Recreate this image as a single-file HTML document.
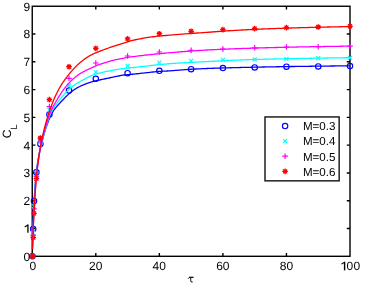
<!DOCTYPE html><html><head><meta charset="utf-8"><style>html,body{margin:0;padding:0;background:#fff}svg{display:block;will-change:transform}text{font-family:"Liberation Sans",sans-serif;fill:#000;text-rendering:geometricPrecision}</style></head><body>
<svg width="366" height="286" viewBox="0 0 366 286">
<rect width="366" height="286" fill="#fff"/>
<g stroke="#000" stroke-width="1.4" fill="none">
<rect x="32.25" y="6.25" width="317.75" height="250.05"/>
<path d="M95.80 256.30 v-3.20 M95.80 6.25 v3.20 M159.35 256.30 v-3.20 M159.35 6.25 v3.20 M222.90 256.30 v-3.20 M222.90 6.25 v3.20 M286.45 256.30 v-3.20 M286.45 6.25 v3.20 M32.25 228.52 h3.20 M350.00 228.52 h-3.20 M32.25 200.73 h3.20 M350.00 200.73 h-3.20 M32.25 172.95 h3.20 M350.00 172.95 h-3.20 M32.25 145.17 h3.20 M350.00 145.17 h-3.20 M32.25 117.38 h3.20 M350.00 117.38 h-3.20 M32.25 89.60 h3.20 M350.00 89.60 h-3.20 M32.25 61.82 h3.20 M350.00 61.82 h-3.20 M32.25 34.03 h3.20 M350.00 34.03 h-3.20 "/>
</g>
<g>
<circle cx="32.40" cy="256.30" r="2.7" fill="none" stroke="#0000ff" stroke-width="1.15"/>
<circle cx="33.20" cy="229.00" r="2.7" fill="none" stroke="#0000ff" stroke-width="1.15"/>
<circle cx="34.00" cy="201.00" r="2.7" fill="none" stroke="#0000ff" stroke-width="1.15"/>
<circle cx="36.40" cy="172.20" r="2.7" fill="none" stroke="#0000ff" stroke-width="1.15"/>
<circle cx="40.40" cy="143.90" r="2.7" fill="none" stroke="#0000ff" stroke-width="1.15"/>
<circle cx="49.40" cy="114.40" r="2.7" fill="none" stroke="#0000ff" stroke-width="1.15"/>
<circle cx="69.00" cy="90.60" r="2.7" fill="none" stroke="#0000ff" stroke-width="1.15"/>
<circle cx="95.80" cy="78.80" r="2.7" fill="none" stroke="#0000ff" stroke-width="1.15"/>
<circle cx="127.58" cy="73.20" r="2.7" fill="none" stroke="#0000ff" stroke-width="1.15"/>
<circle cx="159.35" cy="70.80" r="2.7" fill="none" stroke="#0000ff" stroke-width="1.15"/>
<circle cx="191.12" cy="69.20" r="2.7" fill="none" stroke="#0000ff" stroke-width="1.15"/>
<circle cx="222.90" cy="68.00" r="2.7" fill="none" stroke="#0000ff" stroke-width="1.15"/>
<circle cx="254.68" cy="67.40" r="2.7" fill="none" stroke="#0000ff" stroke-width="1.15"/>
<circle cx="286.45" cy="66.70" r="2.7" fill="none" stroke="#0000ff" stroke-width="1.15"/>
<circle cx="318.23" cy="66.40" r="2.7" fill="none" stroke="#0000ff" stroke-width="1.15"/>
<circle cx="350.00" cy="66.10" r="2.7" fill="none" stroke="#0000ff" stroke-width="1.15"/>
</g>
<g>
<path d="M30.40 254.30 L34.40 258.30 M30.40 258.30 L34.40 254.30" stroke="#00ffff" stroke-width="1.2" fill="none"/>
<path d="M31.20 230.80 L35.20 234.80 M31.20 234.80 L35.20 230.80" stroke="#00ffff" stroke-width="1.2" fill="none"/>
<path d="M32.00 204.30 L36.00 208.30 M32.00 208.30 L36.00 204.30" stroke="#00ffff" stroke-width="1.2" fill="none"/>
<path d="M34.40 172.60 L38.40 176.60 M34.40 176.60 L38.40 172.60" stroke="#00ffff" stroke-width="1.2" fill="none"/>
<path d="M38.40 140.00 L42.40 144.00 M38.40 144.00 L42.40 140.00" stroke="#00ffff" stroke-width="1.2" fill="none"/>
<path d="M47.40 108.00 L51.40 112.00 M47.40 112.00 L51.40 108.00" stroke="#00ffff" stroke-width="1.2" fill="none"/>
<path d="M67.00 83.50 L71.00 87.50 M67.00 87.50 L71.00 83.50" stroke="#00ffff" stroke-width="1.2" fill="none"/>
<path d="M93.80 70.20 L97.80 74.20 M93.80 74.20 L97.80 70.20" stroke="#00ffff" stroke-width="1.2" fill="none"/>
<path d="M125.58 63.90 L129.57 67.90 M125.58 67.90 L129.57 63.90" stroke="#00ffff" stroke-width="1.2" fill="none"/>
<path d="M157.35 60.60 L161.35 64.60 M157.35 64.60 L161.35 60.60" stroke="#00ffff" stroke-width="1.2" fill="none"/>
<path d="M189.12 58.80 L193.12 62.80 M189.12 62.80 L193.12 58.80" stroke="#00ffff" stroke-width="1.2" fill="none"/>
<path d="M220.90 57.80 L224.90 61.80 M220.90 61.80 L224.90 57.80" stroke="#00ffff" stroke-width="1.2" fill="none"/>
<path d="M252.68 57.40 L256.68 61.40 M252.68 61.40 L256.68 57.40" stroke="#00ffff" stroke-width="1.2" fill="none"/>
<path d="M284.45 56.80 L288.45 60.80 M284.45 60.80 L288.45 56.80" stroke="#00ffff" stroke-width="1.2" fill="none"/>
<path d="M316.23 56.20 L320.23 60.20 M316.23 60.20 L320.23 56.20" stroke="#00ffff" stroke-width="1.2" fill="none"/>
<path d="M348.00 55.90 L352.00 59.90 M348.00 59.90 L352.00 55.90" stroke="#00ffff" stroke-width="1.2" fill="none"/>
</g>
<g>
<path d="M29.60 256.30 L35.20 256.30 M32.40 253.50 L32.40 259.10" stroke="#ff00ff" stroke-width="1.2" fill="none"/>
<path d="M30.40 235.20 L36.00 235.20 M33.20 232.40 L33.20 238.00" stroke="#ff00ff" stroke-width="1.2" fill="none"/>
<path d="M31.20 208.90 L36.80 208.90 M34.00 206.10 L34.00 211.70" stroke="#ff00ff" stroke-width="1.2" fill="none"/>
<path d="M33.60 176.20 L39.20 176.20 M36.40 173.40 L36.40 179.00" stroke="#ff00ff" stroke-width="1.2" fill="none"/>
<path d="M37.60 141.00 L43.20 141.00 M40.40 138.20 L40.40 143.80" stroke="#ff00ff" stroke-width="1.2" fill="none"/>
<path d="M46.60 106.60 L52.20 106.60 M49.40 103.80 L49.40 109.40" stroke="#ff00ff" stroke-width="1.2" fill="none"/>
<path d="M66.20 78.30 L71.80 78.30 M69.00 75.50 L69.00 81.10" stroke="#ff00ff" stroke-width="1.2" fill="none"/>
<path d="M93.00 63.00 L98.60 63.00 M95.80 60.20 L95.80 65.80" stroke="#ff00ff" stroke-width="1.2" fill="none"/>
<path d="M124.78 56.00 L130.38 56.00 M127.58 53.20 L127.58 58.80" stroke="#ff00ff" stroke-width="1.2" fill="none"/>
<path d="M156.55 52.00 L162.15 52.00 M159.35 49.20 L159.35 54.80" stroke="#ff00ff" stroke-width="1.2" fill="none"/>
<path d="M188.32 50.30 L193.93 50.30 M191.12 47.50 L191.12 53.10" stroke="#ff00ff" stroke-width="1.2" fill="none"/>
<path d="M220.10 49.00 L225.70 49.00 M222.90 46.20 L222.90 51.80" stroke="#ff00ff" stroke-width="1.2" fill="none"/>
<path d="M251.88 47.80 L257.48 47.80 M254.68 45.00 L254.68 50.60" stroke="#ff00ff" stroke-width="1.2" fill="none"/>
<path d="M283.65 47.00 L289.25 47.00 M286.45 44.20 L286.45 49.80" stroke="#ff00ff" stroke-width="1.2" fill="none"/>
<path d="M315.43 46.70 L321.03 46.70 M318.23 43.90 L318.23 49.50" stroke="#ff00ff" stroke-width="1.2" fill="none"/>
<path d="M347.20 46.20 L352.80 46.20 M350.00 43.40 L350.00 49.00" stroke="#ff00ff" stroke-width="1.2" fill="none"/>
</g>
<g>
<path d="M29.60 256.30 L35.20 256.30 M32.40 253.50 L32.40 259.10 M30.40 254.30 L34.40 258.30 M30.40 258.30 L34.40 254.30" stroke="#ff0000" stroke-width="1.3" fill="none"/>
<path d="M30.40 237.60 L36.00 237.60 M33.20 234.80 L33.20 240.40 M31.20 235.60 L35.20 239.60 M31.20 239.60 L35.20 235.60" stroke="#ff0000" stroke-width="1.3" fill="none"/>
<path d="M31.20 213.40 L36.80 213.40 M34.00 210.60 L34.00 216.20 M32.00 211.40 L36.00 215.40 M32.00 215.40 L36.00 211.40" stroke="#ff0000" stroke-width="1.3" fill="none"/>
<path d="M33.60 178.60 L39.20 178.60 M36.40 175.80 L36.40 181.40 M34.40 176.60 L38.40 180.60 M34.40 180.60 L38.40 176.60" stroke="#ff0000" stroke-width="1.3" fill="none"/>
<path d="M37.60 138.00 L43.20 138.00 M40.40 135.20 L40.40 140.80 M38.40 136.00 L42.40 140.00 M38.40 140.00 L42.40 136.00" stroke="#ff0000" stroke-width="1.3" fill="none"/>
<path d="M46.60 99.65 L52.20 99.65 M49.40 96.85 L49.40 102.45 M47.40 97.65 L51.40 101.65 M47.40 101.65 L51.40 97.65" stroke="#ff0000" stroke-width="1.3" fill="none"/>
<path d="M66.20 66.70 L71.80 66.70 M69.00 63.90 L69.00 69.50 M67.00 64.70 L71.00 68.70 M67.00 68.70 L71.00 64.70" stroke="#ff0000" stroke-width="1.3" fill="none"/>
<path d="M93.00 48.40 L98.60 48.40 M95.80 45.60 L95.80 51.20 M93.80 46.40 L97.80 50.40 M93.80 50.40 L97.80 46.40" stroke="#ff0000" stroke-width="1.3" fill="none"/>
<path d="M124.78 38.90 L130.38 38.90 M127.58 36.10 L127.58 41.70 M125.58 36.90 L129.57 40.90 M125.58 40.90 L129.57 36.90" stroke="#ff0000" stroke-width="1.3" fill="none"/>
<path d="M156.55 33.70 L162.15 33.70 M159.35 30.90 L159.35 36.50 M157.35 31.70 L161.35 35.70 M157.35 35.70 L161.35 31.70" stroke="#ff0000" stroke-width="1.3" fill="none"/>
<path d="M188.32 31.30 L193.93 31.30 M191.12 28.50 L191.12 34.10 M189.12 29.30 L193.12 33.30 M189.12 33.30 L193.12 29.30" stroke="#ff0000" stroke-width="1.3" fill="none"/>
<path d="M220.10 29.60 L225.70 29.60 M222.90 26.80 L222.90 32.40 M220.90 27.60 L224.90 31.60 M220.90 31.60 L224.90 27.60" stroke="#ff0000" stroke-width="1.3" fill="none"/>
<path d="M251.88 28.60 L257.48 28.60 M254.68 25.80 L254.68 31.40 M252.68 26.60 L256.68 30.60 M252.68 30.60 L256.68 26.60" stroke="#ff0000" stroke-width="1.3" fill="none"/>
<path d="M283.65 27.60 L289.25 27.60 M286.45 24.80 L286.45 30.40 M284.45 25.60 L288.45 29.60 M284.45 29.60 L288.45 25.60" stroke="#ff0000" stroke-width="1.3" fill="none"/>
<path d="M315.43 27.00 L321.03 27.00 M318.23 24.20 L318.23 29.80 M316.23 25.00 L320.23 29.00 M316.23 29.00 L320.23 25.00" stroke="#ff0000" stroke-width="1.3" fill="none"/>
<path d="M347.20 26.30 L352.80 26.30 M350.00 23.50 L350.00 29.10 M348.00 24.30 L352.00 28.30 M348.00 28.30 L352.00 24.30" stroke="#ff0000" stroke-width="1.3" fill="none"/>
</g>
<path d="M32.49 246.42 L32.57 243.36 L32.65 240.42 L32.73 237.58 L32.81 234.84 L32.89 232.20 L32.96 229.66 L33.04 227.21 L33.12 224.84 L33.20 222.55 L33.28 220.35 L33.36 218.22 L33.44 216.16 L33.52 214.18 L33.60 212.26 L33.68 210.41 L33.76 208.61 L33.84 206.88 L33.92 205.21 L34.00 203.59 L34.08 202.02 L34.16 200.50 L34.24 199.03 L34.32 197.60 L34.39 196.23 L34.47 194.89 L34.55 193.59 L34.63 192.34 L34.71 191.12 L34.79 189.93 L34.87 188.78 L34.95 187.67 L35.03 186.59 L35.11 185.53 L35.19 184.51 L35.27 183.52 L35.35 182.55 L35.43 181.61 L35.51 180.69 L35.59 179.80 L35.67 178.92 L35.75 178.08 L35.82 177.25 L35.90 176.44 L35.98 175.66 L36.06 174.89 L36.14 174.14 L36.22 173.40 L36.30 172.69 L36.38 171.99 L36.46 171.30 L36.54 170.63 L36.62 169.98 L36.70 169.33 L36.78 168.70 L36.86 168.09 L36.94 167.48 L37.02 166.89 L37.10 166.31 L37.18 165.74 L37.25 165.18 L37.33 164.63 L37.41 164.08 L37.49 163.55 L37.57 163.03 L37.65 162.51 L37.73 162.01 L37.81 161.51 L37.89 161.02 L37.97 160.54 L38.05 160.06 L38.13 159.59 L38.21 159.12 L38.29 158.67 L38.37 158.22 L38.45 157.77 L38.53 157.33 L38.61 156.90 L38.68 156.47 L38.76 156.05 L38.84 155.63 L38.92 155.21 L39.00 154.81 L39.08 154.40 L39.16 154.00 L39.24 153.60 L39.32 153.21 L39.40 152.82 L39.48 152.44 L39.56 152.05 L39.64 151.68 L39.72 151.30 L39.80 150.93 L39.88 150.56 L39.96 150.20 L40.03 149.84 L40.11 149.48 L40.19 149.12 L40.27 148.77 L40.35 148.42 L40.43 148.07 L40.51 147.72 L40.59 147.38 L40.67 147.04 L40.75 146.70 L40.83 146.36 L40.91 146.03 L40.99 145.70 L41.07 145.37 L41.15 145.04 L41.23 144.72 L41.31 144.39 L41.39 144.07 L41.46 143.75 L41.54 143.43 L41.62 143.12 L41.70 142.80 L41.78 142.49 L41.94 141.87 L42.10 141.26 L42.26 140.65 L42.42 140.05 L42.58 139.45 L42.74 138.86 L42.89 138.28 L43.05 137.70 L43.21 137.13 L43.37 136.56 L43.53 136.00 L43.69 135.44 L43.85 134.89 L44.01 134.34 L44.17 133.79 L44.32 133.26 L44.48 132.72 L44.64 132.19 L44.80 131.67 L44.96 131.15 L45.12 130.63 L45.28 130.12 L45.44 129.62 L45.60 129.11 L45.75 128.62 L45.91 128.12 L46.07 127.64 L46.23 127.15 L46.39 126.68 L46.55 126.20 L46.71 125.73 L46.87 125.27 L47.03 124.81 L47.18 124.36 L47.34 123.91 L47.50 123.46 L47.66 123.02 L47.82 122.59 L47.98 122.16 L48.14 121.73 L48.30 121.31 L48.46 120.90 L48.61 120.49 L48.77 120.09 L48.93 119.69 L49.09 119.29 L49.25 118.91 L49.41 118.52 L49.57 118.15 L49.73 117.78 L49.89 117.41 L50.04 117.05 L50.20 116.70 L50.36 116.35 L50.52 116.00 L50.68 115.67 L50.84 115.34 L51.00 115.01 L51.16 114.70 L51.31 114.38 L51.47 114.07 L51.63 113.78 L51.79 113.48 L51.95 113.19 L52.11 112.91 L52.27 112.64 L52.43 112.36 L52.59 112.10 L52.74 111.84 L52.90 111.59 L53.06 111.33 L53.22 111.09 L53.38 110.85 L53.54 110.61 L53.70 110.38 L53.86 110.16 L54.02 109.93 L54.17 109.72 L54.33 109.50 L54.49 109.29 L54.65 109.08 L54.81 108.87 L54.97 108.67 L55.13 108.47 L55.29 108.27 L55.45 108.07 L55.60 107.88 L55.76 107.69 L55.92 107.50 L56.08 107.31 L56.24 107.12 L56.40 106.94 L56.56 106.75 L56.72 106.57 L56.88 106.38 L57.03 106.20 L57.19 106.02 L57.35 105.84 L57.51 105.66 L57.67 105.48 L57.83 105.30 L57.99 105.13 L58.15 104.95 L58.31 104.77 L58.46 104.60 L58.62 104.42 L58.78 104.24 L58.94 104.07 L59.10 103.89 L59.26 103.72 L59.42 103.54 L59.58 103.37 L59.74 103.19 L59.89 103.02 L60.05 102.84 L60.21 102.67 L60.37 102.50 L60.53 102.32 L60.69 102.15 L60.85 101.98 L61.01 101.81 L61.17 101.63 L61.32 101.46 L61.48 101.29 L61.64 101.12 L61.80 100.95 L61.96 100.78 L62.12 100.61 L62.28 100.44 L62.44 100.27 L62.60 100.10 L62.75 99.93 L62.91 99.76 L63.07 99.59 L63.23 99.43 L63.39 99.26 L63.55 99.09 L63.71 98.93 L63.87 98.76 L64.03 98.60 L64.18 98.43 L64.34 98.26 L64.50 98.10 L64.66 97.94 L64.82 97.77 L64.98 97.61 L65.14 97.45 L65.30 97.29 L65.45 97.13 L65.61 96.96 L65.77 96.80 L65.93 96.65 L66.09 96.49 L66.25 96.33 L66.41 96.17 L66.57 96.02 L66.73 95.86 L66.88 95.71 L67.04 95.55 L67.20 95.40 L67.36 95.25 L67.52 95.10 L67.68 94.94 L67.84 94.80 L68.00 94.65 L68.16 94.50 L68.31 94.35 L68.47 94.21 L68.63 94.06 L68.79 93.92 L68.95 93.78 L69.11 93.63 L69.27 93.49 L69.43 93.35 L69.59 93.22 L69.74 93.08 L69.90 92.94 L70.06 92.81 L70.22 92.67 L70.38 92.54 L70.54 92.41 L70.70 92.28 L70.86 92.15 L71.02 92.02 L71.17 91.89 L71.33 91.77 L71.49 91.64 L71.65 91.52 L71.81 91.40 L71.97 91.27 L72.13 91.15 L72.29 91.04 L72.45 90.92 L72.60 90.80 L72.76 90.68 L72.92 90.57 L73.08 90.45 L73.24 90.34 L73.40 90.23 L73.56 90.12 L73.72 90.01 L73.88 89.90 L74.03 89.79 L74.19 89.68 L74.35 89.58 L74.51 89.47 L74.67 89.37 L74.83 89.27 L74.99 89.16 L75.15 89.06 L75.31 88.96 L75.46 88.86 L75.62 88.76 L75.78 88.67 L75.94 88.57 L76.10 88.47 L76.26 88.38 L76.42 88.28 L76.58 88.19 L76.73 88.10 L76.89 88.00 L77.05 87.91 L77.21 87.82 L77.37 87.73 L77.53 87.64 L77.69 87.56 L77.85 87.47 L78.01 87.38 L78.16 87.30 L78.32 87.21 L78.48 87.13 L78.64 87.04 L78.80 86.96 L78.96 86.88 L79.12 86.80 L79.28 86.71 L79.44 86.63 L79.59 86.55 L79.75 86.48 L79.91 86.40 L80.07 86.32 L80.23 86.24 L80.39 86.17 L80.55 86.09 L80.71 86.02 L80.87 85.94 L81.02 85.87 L81.18 85.80 L81.34 85.73 L81.50 85.65 L81.66 85.58 L81.82 85.51 L81.98 85.44 L82.14 85.37 L82.30 85.31 L82.45 85.24 L82.61 85.17 L82.77 85.10 L82.93 85.04 L83.09 84.97 L83.25 84.90 L83.41 84.84 L83.57 84.77 L83.73 84.71 L83.88 84.64 L84.04 84.58 L84.20 84.52 L84.36 84.45 L84.52 84.39 L84.68 84.33 L84.84 84.27 L85.00 84.20 L85.16 84.14 L85.31 84.08 L85.47 84.02 L85.63 83.96 L85.79 83.90 L85.95 83.83 L86.11 83.77 L86.27 83.71 L86.43 83.65 L86.59 83.59 L86.74 83.53 L86.90 83.47 L87.06 83.41 L87.22 83.36 L87.38 83.30 L87.54 83.24 L87.70 83.18 L87.86 83.12 L88.02 83.06 L88.17 83.01 L88.33 82.95 L88.49 82.89 L88.65 82.84 L88.81 82.78 L88.97 82.73 L89.13 82.67 L89.29 82.62 L89.44 82.56 L89.60 82.51 L89.76 82.46 L89.92 82.40 L90.08 82.35 L90.24 82.30 L90.40 82.25 L90.56 82.20 L90.72 82.15 L90.87 82.10 L91.03 82.05 L91.19 82.00 L91.35 81.95 L91.51 81.90 L91.67 81.86 L91.83 81.81 L91.99 81.76 L92.15 81.72 L92.30 81.67 L92.46 81.63 L92.62 81.58 L92.78 81.54 L92.94 81.50 L93.10 81.45 L93.26 81.41 L93.42 81.37 L93.58 81.32 L93.73 81.28 L93.89 81.24 L94.05 81.20 L94.21 81.16 L94.37 81.12 L94.53 81.08 L94.69 81.04 L94.85 81.00 L95.01 80.96 L95.16 80.92 L95.32 80.89 L95.48 80.85 L95.64 80.81 L95.80 80.77 L97.39 80.41 L98.98 80.08 L100.57 79.75 L102.16 79.42 L103.74 79.09 L105.33 78.76 L106.92 78.43 L108.51 78.10 L110.10 77.76 L111.69 77.41 L113.28 77.05 L114.86 76.70 L116.45 76.36 L118.04 76.04 L119.63 75.74 L121.22 75.46 L122.81 75.21 L124.40 75.00 L125.99 74.83 L127.58 74.68 L129.16 74.55 L130.75 74.41 L132.34 74.26 L133.93 74.10 L135.52 73.92 L137.11 73.75 L138.70 73.57 L140.28 73.39 L141.87 73.22 L143.46 73.06 L145.05 72.89 L146.64 72.71 L148.23 72.54 L149.82 72.36 L151.41 72.18 L153.00 72.01 L154.58 71.84 L156.17 71.67 L157.76 71.52 L159.35 71.39 L160.94 71.29 L162.53 71.20 L164.12 71.13 L165.71 71.05 L167.29 70.98 L168.88 70.90 L170.47 70.81 L172.06 70.70 L173.65 70.58 L175.24 70.46 L176.83 70.34 L178.41 70.22 L180.00 70.10 L181.59 69.97 L183.18 69.85 L184.77 69.72 L186.36 69.60 L187.95 69.48 L189.54 69.36 L191.12 69.26 L192.71 69.17 L194.30 69.08 L195.89 69.00 L197.48 68.93 L199.07 68.85 L200.66 68.78 L202.25 68.71 L203.84 68.63 L205.42 68.56 L207.01 68.49 L208.60 68.43 L210.19 68.37 L211.78 68.31 L213.37 68.26 L214.96 68.21 L216.54 68.16 L218.13 68.11 L219.72 68.06 L221.31 68.02 L222.90 67.97 L224.49 67.93 L226.08 67.88 L227.67 67.84 L229.25 67.79 L230.84 67.75 L232.43 67.71 L234.02 67.67 L235.61 67.63 L237.20 67.59 L238.79 67.55 L240.38 67.51 L241.97 67.47 L243.55 67.43 L245.14 67.40 L246.73 67.36 L248.32 67.32 L249.91 67.29 L251.50 67.25 L253.09 67.22 L254.68 67.18 L256.26 67.15 L257.85 67.12 L259.44 67.08 L261.03 67.05 L262.62 67.02 L264.21 66.99 L265.80 66.96 L267.38 66.93 L268.97 66.90 L270.56 66.87 L272.15 66.84 L273.74 66.81 L275.33 66.78 L276.92 66.76 L278.51 66.73 L280.10 66.70 L281.68 66.68 L283.27 66.65 L284.86 66.62 L286.45 66.60 L288.04 66.57 L289.63 66.55 L291.22 66.52 L292.81 66.50 L294.39 66.48 L295.98 66.45 L297.57 66.43 L299.16 66.41 L300.75 66.39 L302.34 66.36 L303.93 66.34 L305.51 66.32 L307.10 66.30 L308.69 66.28 L310.28 66.26 L311.87 66.24 L313.46 66.22 L315.05 66.20 L316.64 66.18 L318.23 66.16 L319.81 66.14 L321.40 66.12 L322.99 66.11 L324.58 66.09 L326.17 66.07 L327.76 66.05 L329.35 66.04 L330.94 66.02 L332.52 66.00 L334.11 65.99 L335.70 65.97 L337.29 65.95 L338.88 65.94 L340.47 65.92 L342.06 65.91 L343.64 65.89 L345.23 65.88 L346.82 65.86 L348.41 65.85 L350.00 65.83" fill="none" stroke="#0000ff" stroke-width="1.30" stroke-linejoin="round"/>
<path d="M32.49 247.66 L32.57 244.96 L32.65 242.34 L32.73 239.81 L32.81 237.35 L32.89 234.96 L32.96 232.65 L33.04 230.41 L33.12 228.24 L33.20 226.13 L33.28 224.08 L33.36 222.09 L33.44 220.17 L33.52 218.29 L33.60 216.48 L33.68 214.71 L33.76 212.99 L33.84 211.33 L33.92 209.71 L34.00 208.13 L34.08 206.60 L34.16 205.11 L34.24 203.66 L34.32 202.25 L34.39 200.87 L34.47 199.54 L34.55 198.23 L34.63 196.97 L34.71 195.73 L34.79 194.52 L34.87 193.35 L34.95 192.20 L35.03 191.09 L35.11 190.00 L35.19 188.93 L35.27 187.89 L35.35 186.88 L35.43 185.89 L35.51 184.92 L35.59 183.97 L35.67 183.05 L35.75 182.14 L35.82 181.26 L35.90 180.39 L35.98 179.54 L36.06 178.71 L36.14 177.90 L36.22 177.10 L36.30 176.32 L36.38 175.56 L36.46 174.81 L36.54 174.07 L36.62 173.35 L36.70 172.64 L36.78 171.95 L36.86 171.26 L36.94 170.59 L37.02 169.93 L37.10 169.29 L37.18 168.65 L37.25 168.02 L37.33 167.41 L37.41 166.80 L37.49 166.21 L37.57 165.62 L37.65 165.04 L37.73 164.47 L37.81 163.91 L37.89 163.36 L37.97 162.81 L38.05 162.27 L38.13 161.74 L38.21 161.22 L38.29 160.71 L38.37 160.20 L38.45 159.69 L38.53 159.20 L38.61 158.71 L38.68 158.22 L38.76 157.75 L38.84 157.27 L38.92 156.81 L39.00 156.34 L39.08 155.89 L39.16 155.43 L39.24 154.99 L39.32 154.54 L39.40 154.11 L39.48 153.67 L39.56 153.24 L39.64 152.82 L39.72 152.40 L39.80 151.98 L39.88 151.57 L39.96 151.16 L40.03 150.75 L40.11 150.35 L40.19 149.95 L40.27 149.56 L40.35 149.16 L40.43 148.78 L40.51 148.39 L40.59 148.01 L40.67 147.63 L40.75 147.25 L40.83 146.88 L40.91 146.51 L40.99 146.14 L41.07 145.77 L41.15 145.41 L41.23 145.05 L41.31 144.69 L41.39 144.33 L41.46 143.98 L41.54 143.63 L41.62 143.28 L41.70 142.93 L41.78 142.59 L41.94 141.91 L42.10 141.23 L42.26 140.57 L42.42 139.91 L42.58 139.26 L42.74 138.61 L42.89 137.98 L43.05 137.35 L43.21 136.72 L43.37 136.10 L43.53 135.49 L43.69 134.88 L43.85 134.28 L44.01 133.69 L44.17 133.10 L44.32 132.51 L44.48 131.94 L44.64 131.36 L44.80 130.79 L44.96 130.23 L45.12 129.67 L45.28 129.12 L45.44 128.57 L45.60 128.02 L45.75 127.49 L45.91 126.95 L46.07 126.42 L46.23 125.90 L46.39 125.38 L46.55 124.87 L46.71 124.36 L46.87 123.86 L47.03 123.36 L47.18 122.87 L47.34 122.39 L47.50 121.90 L47.66 121.43 L47.82 120.96 L47.98 120.49 L48.14 120.04 L48.30 119.58 L48.46 119.14 L48.61 118.70 L48.77 118.26 L48.93 117.83 L49.09 117.41 L49.25 117.00 L49.41 116.59 L49.57 116.19 L49.73 115.79 L49.89 115.40 L50.04 115.02 L50.20 114.65 L50.36 114.28 L50.52 113.91 L50.68 113.56 L50.84 113.21 L51.00 112.87 L51.16 112.54 L51.31 112.21 L51.47 111.89 L51.63 111.57 L51.79 111.26 L51.95 110.96 L52.11 110.66 L52.27 110.37 L52.43 110.08 L52.59 109.80 L52.74 109.53 L52.90 109.25 L53.06 108.99 L53.22 108.73 L53.38 108.47 L53.54 108.21 L53.70 107.96 L53.86 107.71 L54.02 107.47 L54.17 107.23 L54.33 106.99 L54.49 106.75 L54.65 106.52 L54.81 106.29 L54.97 106.06 L55.13 105.83 L55.29 105.61 L55.45 105.38 L55.60 105.16 L55.76 104.94 L55.92 104.72 L56.08 104.50 L56.24 104.28 L56.40 104.06 L56.56 103.84 L56.72 103.63 L56.88 103.41 L57.03 103.20 L57.19 102.98 L57.35 102.77 L57.51 102.56 L57.67 102.34 L57.83 102.13 L57.99 101.92 L58.15 101.71 L58.31 101.50 L58.46 101.29 L58.62 101.08 L58.78 100.87 L58.94 100.66 L59.10 100.45 L59.26 100.25 L59.42 100.04 L59.58 99.83 L59.74 99.63 L59.89 99.42 L60.05 99.22 L60.21 99.02 L60.37 98.81 L60.53 98.61 L60.69 98.41 L60.85 98.21 L61.01 98.02 L61.17 97.82 L61.32 97.62 L61.48 97.43 L61.64 97.23 L61.80 97.04 L61.96 96.85 L62.12 96.65 L62.28 96.46 L62.44 96.28 L62.60 96.09 L62.75 95.90 L62.91 95.72 L63.07 95.53 L63.23 95.35 L63.39 95.17 L63.55 94.98 L63.71 94.81 L63.87 94.63 L64.03 94.45 L64.18 94.27 L64.34 94.10 L64.50 93.93 L64.66 93.75 L64.82 93.58 L64.98 93.41 L65.14 93.24 L65.30 93.08 L65.45 92.91 L65.61 92.75 L65.77 92.58 L65.93 92.42 L66.09 92.26 L66.25 92.09 L66.41 91.93 L66.57 91.78 L66.73 91.62 L66.88 91.46 L67.04 91.31 L67.20 91.15 L67.36 91.00 L67.52 90.84 L67.68 90.69 L67.84 90.54 L68.00 90.39 L68.16 90.24 L68.31 90.09 L68.47 89.94 L68.63 89.80 L68.79 89.65 L68.95 89.50 L69.11 89.36 L69.27 89.22 L69.43 89.07 L69.59 88.93 L69.74 88.79 L69.90 88.65 L70.06 88.51 L70.22 88.37 L70.38 88.23 L70.54 88.10 L70.70 87.96 L70.86 87.83 L71.02 87.69 L71.17 87.56 L71.33 87.43 L71.49 87.29 L71.65 87.16 L71.81 87.03 L71.97 86.90 L72.13 86.78 L72.29 86.65 L72.45 86.52 L72.60 86.40 L72.76 86.27 L72.92 86.15 L73.08 86.03 L73.24 85.91 L73.40 85.78 L73.56 85.67 L73.72 85.55 L73.88 85.43 L74.03 85.31 L74.19 85.20 L74.35 85.08 L74.51 84.97 L74.67 84.86 L74.83 84.74 L74.99 84.63 L75.15 84.52 L75.31 84.41 L75.46 84.31 L75.62 84.20 L75.78 84.09 L75.94 83.99 L76.10 83.89 L76.26 83.78 L76.42 83.68 L76.58 83.58 L76.73 83.48 L76.89 83.38 L77.05 83.28 L77.21 83.19 L77.37 83.09 L77.53 82.99 L77.69 82.90 L77.85 82.80 L78.01 82.71 L78.16 82.62 L78.32 82.53 L78.48 82.44 L78.64 82.34 L78.80 82.25 L78.96 82.16 L79.12 82.08 L79.28 81.99 L79.44 81.90 L79.59 81.81 L79.75 81.72 L79.91 81.64 L80.07 81.55 L80.23 81.46 L80.39 81.38 L80.55 81.29 L80.71 81.21 L80.87 81.12 L81.02 81.04 L81.18 80.95 L81.34 80.86 L81.50 80.78 L81.66 80.69 L81.82 80.61 L81.98 80.52 L82.14 80.44 L82.30 80.35 L82.45 80.27 L82.61 80.18 L82.77 80.10 L82.93 80.01 L83.09 79.92 L83.25 79.84 L83.41 79.75 L83.57 79.67 L83.73 79.58 L83.88 79.49 L84.04 79.41 L84.20 79.32 L84.36 79.24 L84.52 79.15 L84.68 79.06 L84.84 78.98 L85.00 78.89 L85.16 78.80 L85.31 78.72 L85.47 78.63 L85.63 78.55 L85.79 78.46 L85.95 78.37 L86.11 78.29 L86.27 78.20 L86.43 78.12 L86.59 78.03 L86.74 77.95 L86.90 77.86 L87.06 77.78 L87.22 77.69 L87.38 77.61 L87.54 77.53 L87.70 77.44 L87.86 77.36 L88.02 77.28 L88.17 77.20 L88.33 77.12 L88.49 77.03 L88.65 76.95 L88.81 76.87 L88.97 76.79 L89.13 76.72 L89.29 76.64 L89.44 76.56 L89.60 76.48 L89.76 76.40 L89.92 76.33 L90.08 76.25 L90.24 76.18 L90.40 76.10 L90.56 76.03 L90.72 75.96 L90.87 75.88 L91.03 75.81 L91.19 75.74 L91.35 75.67 L91.51 75.60 L91.67 75.53 L91.83 75.46 L91.99 75.40 L92.15 75.33 L92.30 75.26 L92.46 75.20 L92.62 75.13 L92.78 75.07 L92.94 75.01 L93.10 74.94 L93.26 74.88 L93.42 74.82 L93.58 74.76 L93.73 74.70 L93.89 74.64 L94.05 74.58 L94.21 74.52 L94.37 74.47 L94.53 74.41 L94.69 74.35 L94.85 74.30 L95.01 74.25 L95.16 74.19 L95.32 74.14 L95.48 74.09 L95.64 74.04 L95.80 73.99 L97.39 73.53 L98.98 73.13 L100.57 72.76 L102.16 72.41 L103.74 72.07 L105.33 71.72 L106.92 71.39 L108.51 71.07 L110.10 70.77 L111.69 70.49 L113.28 70.22 L114.86 69.97 L116.45 69.72 L118.04 69.47 L119.63 69.23 L121.22 68.98 L122.81 68.75 L124.40 68.52 L125.99 68.32 L127.58 68.15 L129.16 67.99 L130.75 67.83 L132.34 67.67 L133.93 67.49 L135.52 67.30 L137.11 67.11 L138.70 66.93 L140.28 66.75 L141.87 66.57 L143.46 66.39 L145.05 66.21 L146.64 66.04 L148.23 65.86 L149.82 65.68 L151.41 65.50 L153.00 65.33 L154.58 65.15 L156.17 64.98 L157.76 64.82 L159.35 64.66 L160.94 64.50 L162.53 64.34 L164.12 64.19 L165.71 64.04 L167.29 63.90 L168.88 63.76 L170.47 63.63 L172.06 63.52 L173.65 63.41 L175.24 63.31 L176.83 63.21 L178.41 63.11 L180.00 63.01 L181.59 62.92 L183.18 62.82 L184.77 62.73 L186.36 62.64 L187.95 62.55 L189.54 62.46 L191.12 62.38 L192.71 62.29 L194.30 62.21 L195.89 62.13 L197.48 62.05 L199.07 61.97 L200.66 61.89 L202.25 61.81 L203.84 61.74 L205.42 61.66 L207.01 61.59 L208.60 61.51 L210.19 61.43 L211.78 61.35 L213.37 61.27 L214.96 61.18 L216.54 61.09 L218.13 61.01 L219.72 60.93 L221.31 60.84 L222.90 60.76 L224.49 60.68 L226.08 60.60 L227.67 60.52 L229.25 60.45 L230.84 60.37 L232.43 60.29 L234.02 60.22 L235.61 60.15 L237.20 60.09 L238.79 60.03 L240.38 59.98 L241.97 59.92 L243.55 59.87 L245.14 59.82 L246.73 59.77 L248.32 59.72 L249.91 59.67 L251.50 59.62 L253.09 59.58 L254.68 59.53 L256.26 59.48 L257.85 59.44 L259.44 59.39 L261.03 59.35 L262.62 59.31 L264.21 59.26 L265.80 59.22 L267.38 59.18 L268.97 59.14 L270.56 59.10 L272.15 59.06 L273.74 59.02 L275.33 58.98 L276.92 58.94 L278.51 58.91 L280.10 58.87 L281.68 58.83 L283.27 58.80 L284.86 58.76 L286.45 58.73 L288.04 58.69 L289.63 58.66 L291.22 58.63 L292.81 58.59 L294.39 58.56 L295.98 58.53 L297.57 58.50 L299.16 58.47 L300.75 58.44 L302.34 58.41 L303.93 58.38 L305.51 58.35 L307.10 58.32 L308.69 58.29 L310.28 58.27 L311.87 58.24 L313.46 58.21 L315.05 58.18 L316.64 58.16 L318.23 58.13 L319.81 58.11 L321.40 58.08 L322.99 58.06 L324.58 58.03 L326.17 58.01 L327.76 57.99 L329.35 57.96 L330.94 57.94 L332.52 57.92 L334.11 57.90 L335.70 57.87 L337.29 57.85 L338.88 57.83 L340.47 57.81 L342.06 57.79 L343.64 57.77 L345.23 57.75 L346.82 57.73 L348.41 57.71 L350.00 57.69" fill="none" stroke="#00ffff" stroke-width="1.30" stroke-linejoin="round"/>
<path d="M32.49 248.54 L32.57 246.08 L32.65 243.69 L32.73 241.35 L32.81 239.08 L32.89 236.87 L32.96 234.71 L33.04 232.61 L33.12 230.56 L33.20 228.56 L33.28 226.61 L33.36 224.71 L33.44 222.86 L33.52 221.05 L33.60 219.29 L33.68 217.57 L33.76 215.89 L33.84 214.25 L33.92 212.64 L34.00 211.08 L34.08 209.56 L34.16 208.06 L34.24 206.61 L34.32 205.19 L34.39 203.80 L34.47 202.44 L34.55 201.11 L34.63 199.81 L34.71 198.54 L34.79 197.30 L34.87 196.08 L34.95 194.90 L35.03 193.73 L35.11 192.60 L35.19 191.48 L35.27 190.39 L35.35 189.32 L35.43 188.28 L35.51 187.25 L35.59 186.25 L35.67 185.27 L35.75 184.30 L35.82 183.36 L35.90 182.43 L35.98 181.52 L36.06 180.63 L36.14 179.76 L36.22 178.90 L36.30 178.06 L36.38 177.23 L36.46 176.42 L36.54 175.62 L36.62 174.84 L36.70 174.07 L36.78 173.32 L36.86 172.57 L36.94 171.84 L37.02 171.12 L37.10 170.42 L37.18 169.72 L37.25 169.04 L37.33 168.37 L37.41 167.71 L37.49 167.06 L37.57 166.42 L37.65 165.78 L37.73 165.16 L37.81 164.55 L37.89 163.95 L37.97 163.35 L38.05 162.76 L38.13 162.19 L38.21 161.62 L38.29 161.05 L38.37 160.50 L38.45 159.95 L38.53 159.41 L38.61 158.88 L38.68 158.35 L38.76 157.83 L38.84 157.32 L38.92 156.81 L39.00 156.31 L39.08 155.82 L39.16 155.33 L39.24 154.85 L39.32 154.37 L39.40 153.90 L39.48 153.43 L39.56 152.97 L39.64 152.51 L39.72 152.06 L39.80 151.61 L39.88 151.17 L39.96 150.73 L40.03 150.30 L40.11 149.87 L40.19 149.44 L40.27 149.02 L40.35 148.60 L40.43 148.19 L40.51 147.78 L40.59 147.38 L40.67 146.97 L40.75 146.58 L40.83 146.18 L40.91 145.79 L40.99 145.40 L41.07 145.02 L41.15 144.63 L41.23 144.25 L41.31 143.88 L41.39 143.51 L41.46 143.14 L41.54 142.77 L41.62 142.40 L41.70 142.04 L41.78 141.68 L41.94 140.97 L42.10 140.27 L42.26 139.58 L42.42 138.90 L42.58 138.22 L42.74 137.56 L42.89 136.90 L43.05 136.25 L43.21 135.61 L43.37 134.97 L43.53 134.35 L43.69 133.72 L43.85 133.11 L44.01 132.50 L44.17 131.90 L44.32 131.30 L44.48 130.71 L44.64 130.12 L44.80 129.54 L44.96 128.97 L45.12 128.40 L45.28 127.83 L45.44 127.27 L45.60 126.72 L45.75 126.17 L45.91 125.63 L46.07 125.09 L46.23 124.56 L46.39 124.03 L46.55 123.50 L46.71 122.98 L46.87 122.47 L47.03 121.96 L47.18 121.46 L47.34 120.96 L47.50 120.46 L47.66 119.98 L47.82 119.50 L47.98 119.02 L48.14 118.55 L48.30 118.08 L48.46 117.62 L48.61 117.17 L48.77 116.72 L48.93 116.28 L49.09 115.84 L49.25 115.41 L49.41 114.99 L49.57 114.57 L49.73 114.16 L49.89 113.75 L50.04 113.35 L50.20 112.96 L50.36 112.58 L50.52 112.19 L50.68 111.82 L50.84 111.45 L51.00 111.08 L51.16 110.73 L51.31 110.37 L51.47 110.03 L51.63 109.68 L51.79 109.35 L51.95 109.01 L52.11 108.69 L52.27 108.36 L52.43 108.04 L52.59 107.73 L52.74 107.42 L52.90 107.11 L53.06 106.80 L53.22 106.50 L53.38 106.20 L53.54 105.91 L53.70 105.61 L53.86 105.32 L54.02 105.03 L54.17 104.74 L54.33 104.46 L54.49 104.17 L54.65 103.89 L54.81 103.61 L54.97 103.33 L55.13 103.05 L55.29 102.77 L55.45 102.50 L55.60 102.22 L55.76 101.94 L55.92 101.67 L56.08 101.39 L56.24 101.12 L56.40 100.85 L56.56 100.58 L56.72 100.30 L56.88 100.03 L57.03 99.76 L57.19 99.49 L57.35 99.22 L57.51 98.95 L57.67 98.68 L57.83 98.42 L57.99 98.15 L58.15 97.89 L58.31 97.62 L58.46 97.36 L58.62 97.09 L58.78 96.83 L58.94 96.57 L59.10 96.31 L59.26 96.06 L59.42 95.80 L59.58 95.54 L59.74 95.29 L59.89 95.04 L60.05 94.79 L60.21 94.54 L60.37 94.29 L60.53 94.04 L60.69 93.79 L60.85 93.55 L61.01 93.31 L61.17 93.07 L61.32 92.83 L61.48 92.59 L61.64 92.35 L61.80 92.12 L61.96 91.88 L62.12 91.65 L62.28 91.42 L62.44 91.19 L62.60 90.97 L62.75 90.74 L62.91 90.52 L63.07 90.30 L63.23 90.08 L63.39 89.86 L63.55 89.64 L63.71 89.42 L63.87 89.21 L64.03 89.00 L64.18 88.78 L64.34 88.57 L64.50 88.37 L64.66 88.16 L64.82 87.95 L64.98 87.75 L65.14 87.55 L65.30 87.34 L65.45 87.14 L65.61 86.95 L65.77 86.75 L65.93 86.55 L66.09 86.36 L66.25 86.17 L66.41 85.97 L66.57 85.78 L66.73 85.59 L66.88 85.41 L67.04 85.22 L67.20 85.03 L67.36 84.85 L67.52 84.67 L67.68 84.49 L67.84 84.31 L68.00 84.13 L68.16 83.95 L68.31 83.77 L68.47 83.60 L68.63 83.42 L68.79 83.25 L68.95 83.08 L69.11 82.91 L69.27 82.74 L69.43 82.57 L69.59 82.40 L69.74 82.23 L69.90 82.07 L70.06 81.90 L70.22 81.74 L70.38 81.58 L70.54 81.42 L70.70 81.26 L70.86 81.10 L71.02 80.94 L71.17 80.79 L71.33 80.63 L71.49 80.48 L71.65 80.32 L71.81 80.17 L71.97 80.02 L72.13 79.87 L72.29 79.72 L72.45 79.57 L72.60 79.43 L72.76 79.28 L72.92 79.13 L73.08 78.99 L73.24 78.85 L73.40 78.71 L73.56 78.56 L73.72 78.42 L73.88 78.29 L74.03 78.15 L74.19 78.01 L74.35 77.87 L74.51 77.74 L74.67 77.61 L74.83 77.47 L74.99 77.34 L75.15 77.21 L75.31 77.08 L75.46 76.95 L75.62 76.82 L75.78 76.69 L75.94 76.57 L76.10 76.44 L76.26 76.32 L76.42 76.20 L76.58 76.08 L76.73 75.95 L76.89 75.83 L77.05 75.72 L77.21 75.60 L77.37 75.48 L77.53 75.36 L77.69 75.25 L77.85 75.14 L78.01 75.02 L78.16 74.91 L78.32 74.80 L78.48 74.69 L78.64 74.58 L78.80 74.47 L78.96 74.37 L79.12 74.26 L79.28 74.16 L79.44 74.05 L79.59 73.95 L79.75 73.85 L79.91 73.75 L80.07 73.65 L80.23 73.55 L80.39 73.45 L80.55 73.35 L80.71 73.25 L80.87 73.16 L81.02 73.06 L81.18 72.97 L81.34 72.87 L81.50 72.78 L81.66 72.69 L81.82 72.59 L81.98 72.50 L82.14 72.41 L82.30 72.32 L82.45 72.23 L82.61 72.15 L82.77 72.06 L82.93 71.97 L83.09 71.89 L83.25 71.80 L83.41 71.71 L83.57 71.63 L83.73 71.55 L83.88 71.46 L84.04 71.38 L84.20 71.30 L84.36 71.22 L84.52 71.14 L84.68 71.06 L84.84 70.98 L85.00 70.90 L85.16 70.82 L85.31 70.74 L85.47 70.67 L85.63 70.59 L85.79 70.51 L85.95 70.44 L86.11 70.36 L86.27 70.29 L86.43 70.21 L86.59 70.14 L86.74 70.06 L86.90 69.99 L87.06 69.92 L87.22 69.84 L87.38 69.77 L87.54 69.70 L87.70 69.63 L87.86 69.56 L88.02 69.48 L88.17 69.41 L88.33 69.34 L88.49 69.27 L88.65 69.20 L88.81 69.12 L88.97 69.05 L89.13 68.98 L89.29 68.91 L89.44 68.84 L89.60 68.76 L89.76 68.69 L89.92 68.62 L90.08 68.55 L90.24 68.47 L90.40 68.40 L90.56 68.32 L90.72 68.25 L90.87 68.18 L91.03 68.10 L91.19 68.02 L91.35 67.95 L91.51 67.87 L91.67 67.80 L91.83 67.72 L91.99 67.64 L92.15 67.57 L92.30 67.49 L92.46 67.41 L92.62 67.34 L92.78 67.26 L92.94 67.18 L93.10 67.10 L93.26 67.03 L93.42 66.95 L93.58 66.87 L93.73 66.80 L93.89 66.72 L94.05 66.64 L94.21 66.57 L94.37 66.49 L94.53 66.42 L94.69 66.34 L94.85 66.27 L95.01 66.20 L95.16 66.13 L95.32 66.05 L95.48 65.98 L95.64 65.91 L95.80 65.84 L97.39 65.19 L98.98 64.61 L100.57 64.07 L102.16 63.55 L103.74 63.03 L105.33 62.52 L106.92 62.02 L108.51 61.54 L110.10 61.10 L111.69 60.70 L113.28 60.33 L114.86 59.98 L116.45 59.64 L118.04 59.30 L119.63 58.97 L121.22 58.65 L122.81 58.33 L124.40 58.02 L125.99 57.73 L127.58 57.45 L129.16 57.20 L130.75 56.96 L132.34 56.73 L133.93 56.52 L135.52 56.31 L137.11 56.11 L138.70 55.92 L140.28 55.73 L141.87 55.55 L143.46 55.37 L145.05 55.19 L146.64 55.02 L148.23 54.84 L149.82 54.67 L151.41 54.50 L153.00 54.33 L154.58 54.16 L156.17 54.00 L157.76 53.84 L159.35 53.69 L160.94 53.54 L162.53 53.39 L164.12 53.25 L165.71 53.11 L167.29 52.97 L168.88 52.84 L170.47 52.70 L172.06 52.56 L173.65 52.42 L175.24 52.28 L176.83 52.15 L178.41 52.02 L180.00 51.88 L181.59 51.76 L183.18 51.63 L184.77 51.50 L186.36 51.38 L187.95 51.26 L189.54 51.14 L191.12 51.02 L192.71 50.91 L194.30 50.80 L195.89 50.70 L197.48 50.60 L199.07 50.49 L200.66 50.39 L202.25 50.29 L203.84 50.20 L205.42 50.10 L207.01 50.01 L208.60 49.92 L210.19 49.83 L211.78 49.75 L213.37 49.67 L214.96 49.60 L216.54 49.53 L218.13 49.46 L219.72 49.39 L221.31 49.32 L222.90 49.25 L224.49 49.19 L226.08 49.12 L227.67 49.06 L229.25 48.99 L230.84 48.93 L232.43 48.87 L234.02 48.81 L235.61 48.75 L237.20 48.69 L238.79 48.64 L240.38 48.58 L241.97 48.52 L243.55 48.47 L245.14 48.41 L246.73 48.36 L248.32 48.31 L249.91 48.25 L251.50 48.20 L253.09 48.15 L254.68 48.10 L256.26 48.05 L257.85 48.01 L259.44 47.96 L261.03 47.91 L262.62 47.86 L264.21 47.82 L265.80 47.77 L267.38 47.73 L268.97 47.69 L270.56 47.64 L272.15 47.60 L273.74 47.56 L275.33 47.52 L276.92 47.48 L278.51 47.44 L280.10 47.40 L281.68 47.36 L283.27 47.32 L284.86 47.28 L286.45 47.25 L288.04 47.21 L289.63 47.17 L291.22 47.14 L292.81 47.10 L294.39 47.07 L295.98 47.03 L297.57 47.00 L299.16 46.97 L300.75 46.94 L302.34 46.90 L303.93 46.87 L305.51 46.84 L307.10 46.81 L308.69 46.78 L310.28 46.75 L311.87 46.72 L313.46 46.69 L315.05 46.66 L316.64 46.63 L318.23 46.61 L319.81 46.58 L321.40 46.55 L322.99 46.53 L324.58 46.50 L326.17 46.47 L327.76 46.45 L329.35 46.42 L330.94 46.40 L332.52 46.37 L334.11 46.35 L335.70 46.33 L337.29 46.30 L338.88 46.28 L340.47 46.26 L342.06 46.23 L343.64 46.21 L345.23 46.19 L346.82 46.17 L348.41 46.15 L350.00 46.13" fill="none" stroke="#ff00ff" stroke-width="1.30" stroke-linejoin="round"/>
<path d="M32.49 249.10 L32.57 246.80 L32.65 244.55 L32.73 242.36 L32.81 240.21 L32.89 238.11 L32.96 236.06 L33.04 234.05 L33.12 232.08 L33.20 230.16 L33.28 228.28 L33.36 226.43 L33.44 224.63 L33.52 222.87 L33.60 221.14 L33.68 219.45 L33.76 217.80 L33.84 216.18 L33.92 214.59 L34.00 213.04 L34.08 211.51 L34.16 210.02 L34.24 208.56 L34.32 207.13 L34.39 205.73 L34.47 204.35 L34.55 203.00 L34.63 201.68 L34.71 200.39 L34.79 199.12 L34.87 197.87 L34.95 196.65 L35.03 195.45 L35.11 194.27 L35.19 193.12 L35.27 191.99 L35.35 190.88 L35.43 189.78 L35.51 188.71 L35.59 187.66 L35.67 186.63 L35.75 185.62 L35.82 184.62 L35.90 183.64 L35.98 182.68 L36.06 181.73 L36.14 180.81 L36.22 179.89 L36.30 179.00 L36.38 178.11 L36.46 177.25 L36.54 176.39 L36.62 175.55 L36.70 174.73 L36.78 173.92 L36.86 173.12 L36.94 172.33 L37.02 171.56 L37.10 170.79 L37.18 170.04 L37.25 169.30 L37.33 168.57 L37.41 167.86 L37.49 167.15 L37.57 166.46 L37.65 165.77 L37.73 165.09 L37.81 164.43 L37.89 163.77 L37.97 163.12 L38.05 162.48 L38.13 161.85 L38.21 161.23 L38.29 160.62 L38.37 160.01 L38.45 159.41 L38.53 158.83 L38.61 158.24 L38.68 157.67 L38.76 157.10 L38.84 156.54 L38.92 155.99 L39.00 155.44 L39.08 154.90 L39.16 154.37 L39.24 153.84 L39.32 153.32 L39.40 152.80 L39.48 152.30 L39.56 151.79 L39.64 151.29 L39.72 150.80 L39.80 150.32 L39.88 149.83 L39.96 149.36 L40.03 148.89 L40.11 148.42 L40.19 147.96 L40.27 147.50 L40.35 147.05 L40.43 146.60 L40.51 146.16 L40.59 145.72 L40.67 145.28 L40.75 144.85 L40.83 144.42 L40.91 144.00 L40.99 143.58 L41.07 143.17 L41.15 142.75 L41.23 142.35 L41.31 141.94 L41.39 141.54 L41.46 141.14 L41.54 140.75 L41.62 140.36 L41.70 139.97 L41.78 139.58 L41.94 138.82 L42.10 138.07 L42.26 137.34 L42.42 136.61 L42.58 135.89 L42.74 135.18 L42.89 134.49 L43.05 133.80 L43.21 133.12 L43.37 132.45 L43.53 131.79 L43.69 131.13 L43.85 130.49 L44.01 129.85 L44.17 129.21 L44.32 128.59 L44.48 127.97 L44.64 127.36 L44.80 126.75 L44.96 126.15 L45.12 125.55 L45.28 124.96 L45.44 124.38 L45.60 123.80 L45.75 123.23 L45.91 122.66 L46.07 122.10 L46.23 121.54 L46.39 120.98 L46.55 120.44 L46.71 119.89 L46.87 119.35 L47.03 118.82 L47.18 118.29 L47.34 117.76 L47.50 117.24 L47.66 116.73 L47.82 116.22 L47.98 115.71 L48.14 115.21 L48.30 114.71 L48.46 114.21 L48.61 113.72 L48.77 113.24 L48.93 112.76 L49.09 112.28 L49.25 111.81 L49.41 111.34 L49.57 110.87 L49.73 110.41 L49.89 109.96 L50.04 109.50 L50.20 109.05 L50.36 108.61 L50.52 108.17 L50.68 107.73 L50.84 107.29 L51.00 106.86 L51.16 106.43 L51.31 106.01 L51.47 105.59 L51.63 105.17 L51.79 104.75 L51.95 104.34 L52.11 103.93 L52.27 103.52 L52.43 103.12 L52.59 102.72 L52.74 102.32 L52.90 101.92 L53.06 101.53 L53.22 101.14 L53.38 100.75 L53.54 100.37 L53.70 99.98 L53.86 99.61 L54.02 99.23 L54.17 98.86 L54.33 98.48 L54.49 98.12 L54.65 97.75 L54.81 97.39 L54.97 97.03 L55.13 96.67 L55.29 96.32 L55.45 95.97 L55.60 95.62 L55.76 95.28 L55.92 94.93 L56.08 94.59 L56.24 94.26 L56.40 93.93 L56.56 93.60 L56.72 93.27 L56.88 92.95 L57.03 92.62 L57.19 92.31 L57.35 91.99 L57.51 91.68 L57.67 91.37 L57.83 91.06 L57.99 90.76 L58.15 90.46 L58.31 90.16 L58.46 89.86 L58.62 89.57 L58.78 89.28 L58.94 88.99 L59.10 88.70 L59.26 88.42 L59.42 88.14 L59.58 87.86 L59.74 87.58 L59.89 87.31 L60.05 87.04 L60.21 86.77 L60.37 86.50 L60.53 86.23 L60.69 85.97 L60.85 85.70 L61.01 85.44 L61.17 85.18 L61.32 84.93 L61.48 84.67 L61.64 84.42 L61.80 84.16 L61.96 83.91 L62.12 83.67 L62.28 83.42 L62.44 83.17 L62.60 82.93 L62.75 82.69 L62.91 82.45 L63.07 82.21 L63.23 81.97 L63.39 81.73 L63.55 81.50 L63.71 81.27 L63.87 81.03 L64.03 80.80 L64.18 80.58 L64.34 80.35 L64.50 80.12 L64.66 79.90 L64.82 79.67 L64.98 79.45 L65.14 79.23 L65.30 79.01 L65.45 78.79 L65.61 78.58 L65.77 78.36 L65.93 78.15 L66.09 77.93 L66.25 77.72 L66.41 77.51 L66.57 77.30 L66.73 77.09 L66.88 76.88 L67.04 76.68 L67.20 76.47 L67.36 76.26 L67.52 76.06 L67.68 75.86 L67.84 75.65 L68.00 75.45 L68.16 75.25 L68.31 75.05 L68.47 74.85 L68.63 74.65 L68.79 74.46 L68.95 74.26 L69.11 74.06 L69.27 73.87 L69.43 73.67 L69.59 73.48 L69.74 73.28 L69.90 73.09 L70.06 72.90 L70.22 72.71 L70.38 72.52 L70.54 72.33 L70.70 72.14 L70.86 71.95 L71.02 71.76 L71.17 71.57 L71.33 71.39 L71.49 71.20 L71.65 71.02 L71.81 70.83 L71.97 70.65 L72.13 70.47 L72.29 70.28 L72.45 70.10 L72.60 69.92 L72.76 69.75 L72.92 69.57 L73.08 69.39 L73.24 69.22 L73.40 69.04 L73.56 68.87 L73.72 68.69 L73.88 68.52 L74.03 68.35 L74.19 68.18 L74.35 68.01 L74.51 67.84 L74.67 67.68 L74.83 67.51 L74.99 67.35 L75.15 67.18 L75.31 67.02 L75.46 66.86 L75.62 66.70 L75.78 66.54 L75.94 66.38 L76.10 66.22 L76.26 66.07 L76.42 65.91 L76.58 65.76 L76.73 65.60 L76.89 65.45 L77.05 65.30 L77.21 65.15 L77.37 65.00 L77.53 64.85 L77.69 64.70 L77.85 64.56 L78.01 64.41 L78.16 64.27 L78.32 64.12 L78.48 63.98 L78.64 63.84 L78.80 63.69 L78.96 63.55 L79.12 63.41 L79.28 63.28 L79.44 63.14 L79.59 63.00 L79.75 62.87 L79.91 62.73 L80.07 62.59 L80.23 62.46 L80.39 62.33 L80.55 62.20 L80.71 62.06 L80.87 61.93 L81.02 61.80 L81.18 61.67 L81.34 61.55 L81.50 61.42 L81.66 61.29 L81.82 61.16 L81.98 61.04 L82.14 60.91 L82.30 60.79 L82.45 60.67 L82.61 60.54 L82.77 60.42 L82.93 60.30 L83.09 60.18 L83.25 60.06 L83.41 59.94 L83.57 59.82 L83.73 59.70 L83.88 59.59 L84.04 59.47 L84.20 59.35 L84.36 59.24 L84.52 59.12 L84.68 59.01 L84.84 58.90 L85.00 58.78 L85.16 58.67 L85.31 58.56 L85.47 58.45 L85.63 58.34 L85.79 58.23 L85.95 58.12 L86.11 58.01 L86.27 57.90 L86.43 57.80 L86.59 57.69 L86.74 57.59 L86.90 57.48 L87.06 57.38 L87.22 57.27 L87.38 57.17 L87.54 57.07 L87.70 56.97 L87.86 56.87 L88.02 56.77 L88.17 56.67 L88.33 56.57 L88.49 56.48 L88.65 56.38 L88.81 56.29 L88.97 56.19 L89.13 56.10 L89.29 56.00 L89.44 55.91 L89.60 55.82 L89.76 55.73 L89.92 55.64 L90.08 55.55 L90.24 55.47 L90.40 55.38 L90.56 55.29 L90.72 55.21 L90.87 55.12 L91.03 55.04 L91.19 54.96 L91.35 54.87 L91.51 54.79 L91.67 54.71 L91.83 54.63 L91.99 54.55 L92.15 54.47 L92.30 54.40 L92.46 54.32 L92.62 54.24 L92.78 54.17 L92.94 54.09 L93.10 54.02 L93.26 53.94 L93.42 53.87 L93.58 53.80 L93.73 53.72 L93.89 53.65 L94.05 53.58 L94.21 53.51 L94.37 53.44 L94.53 53.37 L94.69 53.30 L94.85 53.23 L95.01 53.16 L95.16 53.10 L95.32 53.03 L95.48 52.96 L95.64 52.89 L95.80 52.83 L97.39 52.18 L98.98 51.56 L100.57 50.95 L102.16 50.34 L103.74 49.74 L105.33 49.14 L106.92 48.56 L108.51 48.00 L110.10 47.45 L111.69 46.91 L113.28 46.37 L114.86 45.84 L116.45 45.30 L118.04 44.78 L119.63 44.27 L121.22 43.77 L122.81 43.27 L124.40 42.77 L125.99 42.27 L127.58 41.77 L129.16 41.30 L130.75 40.87 L132.34 40.47 L133.93 40.10 L135.52 39.75 L137.11 39.41 L138.70 39.09 L140.28 38.78 L141.87 38.49 L143.46 38.21 L145.05 37.94 L146.64 37.68 L148.23 37.42 L149.82 37.19 L151.41 36.97 L153.00 36.76 L154.58 36.57 L156.17 36.38 L157.76 36.20 L159.35 36.04 L160.94 35.89 L162.53 35.74 L164.12 35.61 L165.71 35.48 L167.29 35.36 L168.88 35.22 L170.47 35.09 L172.06 34.95 L173.65 34.81 L175.24 34.68 L176.83 34.54 L178.41 34.42 L180.00 34.29 L181.59 34.17 L183.18 34.05 L184.77 33.93 L186.36 33.82 L187.95 33.70 L189.54 33.59 L191.12 33.48 L192.71 33.36 L194.30 33.24 L195.89 33.12 L197.48 33.01 L199.07 32.89 L200.66 32.78 L202.25 32.67 L203.84 32.56 L205.42 32.45 L207.01 32.34 L208.60 32.23 L210.19 32.11 L211.78 31.99 L213.37 31.87 L214.96 31.75 L216.54 31.63 L218.13 31.52 L219.72 31.40 L221.31 31.29 L222.90 31.18 L224.49 31.07 L226.08 30.96 L227.67 30.86 L229.25 30.75 L230.84 30.65 L232.43 30.56 L234.02 30.47 L235.61 30.37 L237.20 30.28 L238.79 30.20 L240.38 30.11 L241.97 30.02 L243.55 29.94 L245.14 29.86 L246.73 29.77 L248.32 29.69 L249.91 29.61 L251.50 29.54 L253.09 29.46 L254.68 29.38 L256.26 29.31 L257.85 29.23 L259.44 29.16 L261.03 29.09 L262.62 29.02 L264.21 28.96 L265.80 28.89 L267.38 28.83 L268.97 28.77 L270.56 28.71 L272.15 28.65 L273.74 28.59 L275.33 28.53 L276.92 28.47 L278.51 28.42 L280.10 28.36 L281.68 28.31 L283.27 28.25 L284.86 28.20 L286.45 28.15 L288.04 28.09 L289.63 28.04 L291.22 27.99 L292.81 27.94 L294.39 27.89 L295.98 27.85 L297.57 27.80 L299.16 27.75 L300.75 27.71 L302.34 27.66 L303.93 27.62 L305.51 27.57 L307.10 27.53 L308.69 27.49 L310.28 27.44 L311.87 27.40 L313.46 27.36 L315.05 27.32 L316.64 27.28 L318.23 27.24 L319.81 27.20 L321.40 27.17 L322.99 27.13 L324.58 27.09 L326.17 27.06 L327.76 27.02 L329.35 26.99 L330.94 26.95 L332.52 26.92 L334.11 26.88 L335.70 26.85 L337.29 26.82 L338.88 26.79 L340.47 26.75 L342.06 26.72 L343.64 26.69 L345.23 26.66 L346.82 26.63 L348.41 26.60 L350.00 26.57" fill="none" stroke="#ff0000" stroke-width="1.30" stroke-linejoin="round"/>
<text x="32.90" y="270.4" font-size="12" text-anchor="middle">0</text>
<text x="95.75" y="270.4" font-size="12" text-anchor="middle">20</text>
<text x="159.30" y="270.4" font-size="12" text-anchor="middle">40</text>
<text x="222.85" y="270.4" font-size="12" text-anchor="middle">60</text>
<text x="286.40" y="270.4" font-size="12" text-anchor="middle">80</text>
<path d="M344.60 270.35 V261.75" stroke="#000" stroke-width="1.40" fill="none"/><path d="M344.50 262.20 L341.40 264.10" stroke="#000" stroke-width="1.1" fill="none"/>
<text x="346.4" y="270.4" font-size="12" letter-spacing="0.5">00</text>
<text x="30.1" y="260.70" font-size="12" text-anchor="end">0</text>
<path d="M27.95 232.82 V224.62" stroke="#000" stroke-width="1.30" fill="none"/><path d="M27.85 225.07 L24.70 226.97" stroke="#000" stroke-width="1.1" fill="none"/>
<text x="30.1" y="205.13" font-size="12" text-anchor="end">2</text>
<text x="30.1" y="177.35" font-size="12" text-anchor="end">3</text>
<text x="30.1" y="149.57" font-size="12" text-anchor="end">4</text>
<text x="30.1" y="121.78" font-size="12" text-anchor="end">5</text>
<text x="30.1" y="94.00" font-size="12" text-anchor="end">6</text>
<text x="30.1" y="66.22" font-size="12" text-anchor="end">7</text>
<text x="30.1" y="38.43" font-size="12" text-anchor="end">8</text>
<text x="30.1" y="10.65" font-size="12" text-anchor="end">9</text>
<path d="M189.2 277.3 L193.6 277.3" stroke="#000" stroke-width="1.2" fill="none"/><path d="M188.2 278.8 Q188.5 277.4 189.8 277.3" stroke="#000" stroke-width="0.75" fill="none"/><path d="M190.7 277.5 L190.75 281.0 Q190.85 282.6 192.7 282.0" stroke="#000" stroke-width="0.95" fill="none"/>
<g transform="translate(11.0,138.2) rotate(-90)"><text x="0" y="0" font-size="12">C</text><text x="8.7" y="5.8" font-size="9.2">L</text></g>
<rect x="265.0" y="116.95" width="74.15" height="63.9" fill="#fff" stroke="#111" stroke-width="1.4"/>
<circle cx="285.10" cy="126.00" r="2.7" fill="none" stroke="#0000ff" stroke-width="1.15"/>
<text x="302.9" y="130.30" font-size="11.6">M=0.3</text>
<path d="M283.10 139.10 L287.10 143.10 M283.10 143.10 L287.10 139.10" stroke="#00ffff" stroke-width="1.2" fill="none"/>
<text x="302.9" y="145.40" font-size="11.6">M=0.4</text>
<path d="M282.30 156.20 L287.90 156.20 M285.10 153.40 L285.10 159.00" stroke="#ff00ff" stroke-width="1.2" fill="none"/>
<text x="302.9" y="160.50" font-size="11.6">M=0.5</text>
<path d="M282.30 171.40 L287.90 171.40 M285.10 168.60 L285.10 174.20 M283.10 169.40 L287.10 173.40 M283.10 173.40 L287.10 169.40" stroke="#ff0000" stroke-width="1.3" fill="none"/>
<text x="302.9" y="175.70" font-size="11.6">M=0.6</text>
</svg></body></html>
